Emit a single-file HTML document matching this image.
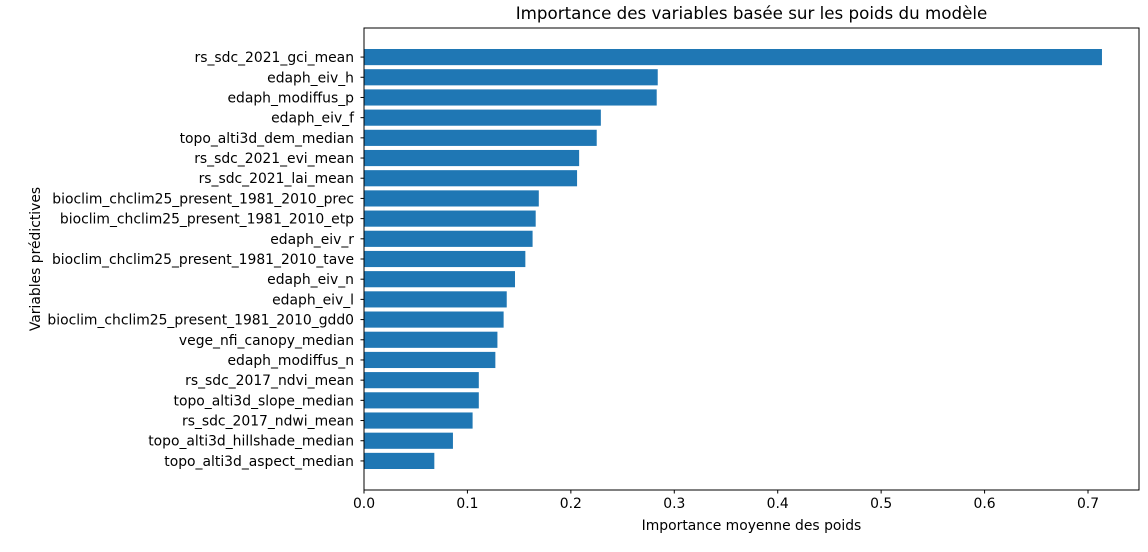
<!DOCTYPE html>
<html><head><meta charset="utf-8">
<style>
body{margin:0;background:#fff;font-family:"Liberation Sans","DejaVu Sans",sans-serif;}
svg text{font-family:"DejaVu Sans","Liberation Sans",sans-serif;fill:#000;}
</style></head>
<body>
<svg id="chart" width="1148" height="547" viewBox="0 0 1148 547" xmlns="http://www.w3.org/2000/svg">
<text x="751.5" y="19" font-size="16.7" text-anchor="middle">Importance des variables basée sur les poids du modèle</text>
<g id="bars"></g>
<g id="yticks"></g>
<g id="xticks"></g>
<rect x="364" y="28" width="775" height="462" fill="none" stroke="#000" stroke-width="1"/>
<text x="751.5" y="530" font-size="13.9" text-anchor="middle">Importance moyenne des poids</text>
<text transform="translate(40,259) rotate(-90)" font-size="13.9" text-anchor="middle">Variables prédictives</text>
</svg>
<script>
const categories = ["rs_sdc_2021_gci_mean","edaph_eiv_h","edaph_modiffus_p","edaph_eiv_f","topo_alti3d_dem_median","rs_sdc_2021_evi_mean","rs_sdc_2021_lai_mean","bioclim_chclim25_present_1981_2010_prec","bioclim_chclim25_present_1981_2010_etp","edaph_eiv_r","bioclim_chclim25_present_1981_2010_tave","edaph_eiv_n","edaph_eiv_l","bioclim_chclim25_present_1981_2010_gdd0","vege_nfi_canopy_median","edaph_modiffus_n","rs_sdc_2017_ndvi_mean","topo_alti3d_slope_median","rs_sdc_2017_ndwi_mean","topo_alti3d_hillshade_median","topo_alti3d_aspect_median"];
const values = [0.7135,0.284,0.283,0.229,0.225,0.208,0.206,0.169,0.166,0.163,0.156,0.146,0.138,0.135,0.129,0.127,0.111,0.111,0.105,0.086,0.068];
const xTicks = [0,0.1,0.2,0.3,0.4,0.5,0.6,0.7];
const xTickLabels = ["0.0","0.1","0.2","0.3","0.4","0.5","0.6","0.7"];

const NS="http://www.w3.org/2000/svg";
const x0=364, x1=1139, yTop=28, yBot=490;
const xMax=0.7/((1088-364)/775);
function xs(v){return x0+v/xMax*(x1-x0);}
const n=categories.length;
const lo=-0.4-0.05*(n-0.2), hi=n-1+0.4+0.05*(n-0.2);
function ys(i){return yTop+(i-lo)/(hi-lo)*(yBot-yTop);}
const unit=(yBot-yTop)/(hi-lo);
const bars=document.getElementById('bars'), yt=document.getElementById('yticks'), xt=document.getElementById('xticks');
categories.forEach((c,i)=>{
  const r=document.createElementNS(NS,'rect');
  
  
  r.setAttribute('x',xs(0));r.setAttribute('y',ys(i)-0.4*unit);
  r.setAttribute('width',xs(values[i])-xs(0));r.setAttribute('height',0.8*unit);
  r.setAttribute('fill','#1f77b4');bars.appendChild(r);
  const l=document.createElementNS(NS,'line');
  
  
  l.setAttribute('x1',x0-3.5);l.setAttribute('x2',x0);l.setAttribute('y1',ys(i));l.setAttribute('y2',ys(i));l.setAttribute('stroke','#000');
  yt.appendChild(l);
  const t=document.createElementNS(NS,'text');
  
  
  t.setAttribute('x',x0-10);t.setAttribute('y',ys(i)+5);t.setAttribute('font-size','13.9');t.setAttribute('text-anchor','end');
  t.textContent=c;yt.appendChild(t);
});
xTicks.forEach((v,i)=>{
  const l=document.createElementNS(NS,'line');
  
  
  l.setAttribute('x1',xs(v));l.setAttribute('x2',xs(v));l.setAttribute('y1',yBot);l.setAttribute('y2',yBot+3.5);l.setAttribute('stroke','#000');
  xt.appendChild(l);
  const t=document.createElementNS(NS,'text');
  
  
  t.setAttribute('x',xs(v));t.setAttribute('y',yBot+18);t.setAttribute('font-size','13.9');t.setAttribute('text-anchor','middle');
  t.textContent=xTickLabels[i];xt.appendChild(t);
});
</script>
</body></html>
